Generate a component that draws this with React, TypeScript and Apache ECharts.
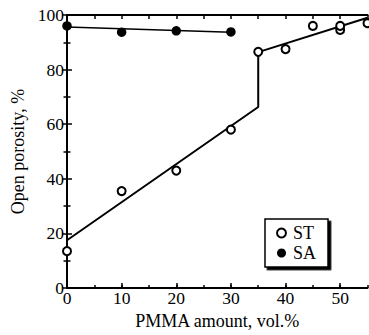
import React, { useEffect, useRef } from "react";
import * as echarts from "echarts";

const stX = [0, 10, 20, 30, 35, 40, 45, 50, 50, 55];
const stY = [13.5, 35.5, 43, 58, 86.5, 87.5, 96, 94.5, 96, 97];
const saX = [0, 10, 20, 30];
const saY = [96, 93.7, 94.2, 93.8];
const stFitX = [0, 35, 35, 55];
const stFitY = [17.5, 66.3, 86.4, 99];
const saFitX = [0, 30];
const saFitY = [95.6, 93.7];

const FONT = "Liberation Serif";

export default function App() {
  const ref = useRef<HTMLDivElement>(null);
  useEffect(() => {
    const chart = echarts.init(ref.current!, null, { renderer: "svg" });
    const axisLine = { show: true, lineStyle: { color: "#000", width: 2 } };
    const label = { color: "#000", fontFamily: FONT, fontSize: 17.5 };
    const nameStyle = { color: "#000", fontFamily: FONT, fontSize: 18 };
    chart.setOption({
      animation: false,
      grid: { left: 67, top: 15, right: 1.5, bottom: 47, containLabel: false },
      legend: {
        data: ["ST", "SA"],
        orient: "vertical",
        left: 265,
        top: 219,
        padding: [5, 12, 5, 11],
        itemGap: 2,
        itemWidth: 9,
        itemHeight: 9,
        backgroundColor: "#fff",
        borderColor: "#000",
        borderWidth: 1.5,
        borderRadius: 0,
        shadowColor: "#000",
        shadowOffsetX: 2.5,
        shadowOffsetY: 2.5,
        shadowBlur: 0,
        textStyle: { color: "#000", fontFamily: FONT, fontSize: 18, padding: [0, 0, 0, 2] },
      },
      xAxis: [
        {
          type: "value",
          position: "bottom",
          min: 0,
          max: 55,
          interval: 10,
          axisLine,
          axisTick: { inside: true, length: 5, lineStyle: { width: 1.5, color: "#000" } },
          axisLabel: { ...label, margin: 1, showMaxLabel: false },
          splitLine: { show: false },
          name: "PMMA amount, vol.%",
          nameLocation: "middle",
          nameGap: 15,
          nameTextStyle: nameStyle,
        },
        {
          type: "value",
          position: "bottom",
          min: 0,
          max: 55,
          interval: 5,
          axisLine: { show: false },
          axisTick: { inside: true, length: 3, lineStyle: { width: 1.5, color: "#000" } },
          axisLabel: { show: false },
          splitLine: { show: false },
        },
        {
          type: "value",
          position: "top",
          min: 0,
          max: 55,
          interval: 5,
          axisLine,
          axisTick: { inside: true, length: 4, lineStyle: { width: 1.5, color: "#000" } },
          axisLabel: { show: false },
          splitLine: { show: false },
        },
      ],
      yAxis: [
        {
          type: "value",
          position: "left",
          min: 0,
          max: 100,
          interval: 20,
          axisLine,
          axisTick: { inside: true, length: 5, lineStyle: { width: 1.5, color: "#000" } },
          minorTick: { show: true, splitNumber: 2, length: 3.5, lineStyle: { width: 1.5, color: "#000" } },
          axisLabel: { ...label, margin: 3 },
          splitLine: { show: false },
          minorSplitLine: { show: false },
          name: "Open porosity, %",
          nameLocation: "middle",
          nameGap: 31,
          nameTextStyle: nameStyle,
        },
        {
          type: "value",
          position: "right",
          min: 0,
          max: 100,
          interval: 20,
          axisLine,
          axisTick: { inside: true, length: 5, lineStyle: { width: 1.5, color: "#000" } },
          minorTick: { show: true, splitNumber: 2, length: 3.5, lineStyle: { width: 1.5, color: "#000" } },
          axisLabel: { show: false },
          splitLine: { show: false },
          minorSplitLine: { show: false },
        },
      ],
      series: [
        {
          type: "line",
          data: stFitX.map((x, i) => [x, stFitY[i]]),
          showSymbol: false,
          symbol: "none",
          lineStyle: { color: "#000", width: 2 },
          clip: false,
          z: 2,
        },
        {
          type: "line",
          data: saFitX.map((x, i) => [x, saFitY[i]]),
          showSymbol: false,
          symbol: "none",
          lineStyle: { color: "#000", width: 1.5 },
          clip: false,
          z: 2,
        },
        {
          name: "ST",
          type: "scatter",
          data: stX.map((x, i) => [x, stY[i]]),
          symbol: "circle",
          symbolSize: 8,
          itemStyle: { color: "#fff", borderColor: "#000", borderWidth: 2, opacity: 1 },
          clip: false,
          z: 3,
        },
        {
          name: "SA",
          type: "scatter",
          data: saX.map((x, i) => [x, saY[i]]),
          symbol: "circle",
          symbolSize: 9.5,
          itemStyle: { color: "#000", opacity: 1 },
          clip: false,
          z: 3,
        },
      ],
    });
    return () => chart.dispose();
  }, []);
  return <div ref={ref} style={{ width: 369, height: 335, position: "absolute", left: 0, top: 0 }} />;
}
